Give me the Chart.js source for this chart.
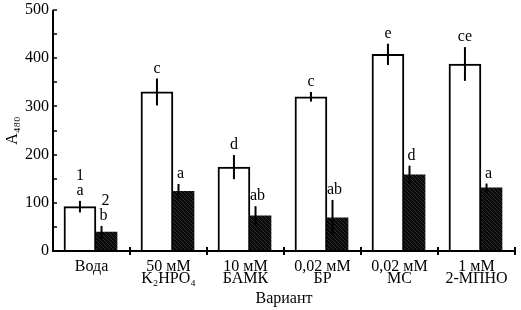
<!DOCTYPE html>
<html>
<head>
<meta charset="utf-8">
<script src="https://cdn.jsdelivr.net/npm/chart.js@4"></script>
<style>
  html, body { margin: 0; padding: 0; background: #fff; }
  #wrap { width: 521px; height: 310px; }
</style>
</head>
<body>
<div id="wrap"><canvas id="chart" width="521" height="310"></canvas></div>
<script>
const variants = [
  "Вода",
  ["50 мМ", "K₂HPO₄"],
  ["10 мМ", "БАМК"],
  ["0,02 мМ", "БР"],
  ["0,02 мМ", "МС"],
  ["1 мМ", "2-МПНО"],
];

// series 1 (white) and 2 (black)
const values1 = [92, 330, 174, 320, 408, 388];
const errors1 = [12, 28, 25, 10, 22, 35];
const letters1 = ["a", "c", "d", "c", "e", "ce"];

const values2 = [39, 124, 73, 69, 158, 131];
const errors2 = [13, 15, 20, 37, 19, 9];
const letters2 = ["b", "a", "ab", "ab", "d", "a"];

const seriesNames = ["1", "2"];

const FONT = "'Liberation Serif', 'Times New Roman', serif";

// dark hatched fill for series 2
function makeHatch() {
  const c = document.createElement("canvas");
  c.width = 4;
  c.height = 4;
  const g = c.getContext("2d");
  g.fillStyle = "#0a0a0a";
  g.fillRect(0, 0, 4, 4);
  g.strokeStyle = "#2e2e2e";
  g.lineWidth = 1;
  g.beginPath();
  g.moveTo(0, 0);
  g.lineTo(4, 4);
  g.stroke();
  return g.createPattern(c, "repeat");
}

// x position inside each category on the hidden linear axis
const pts1 = values1.map((v, i) => ({ x: i + 0.35, y: v }));
const pts2 = values2.map((v, i) => ({ x: i + 0.63, y: v }));

const errorBars = {
  id: "errorBars",
  afterDatasetsDraw(chart) {
    const { ctx } = chart;
    const y = chart.scales.y;
    const errs = [errors1, errors2];
    const lets = [letters1, letters2];
    ctx.save();
    ctx.strokeStyle = "#000";
    ctx.lineWidth = 2;
    ctx.fillStyle = "#000";
    ctx.font = "16px " + FONT;
    ctx.textAlign = "center";
    ctx.textBaseline = "middle";
    chart.data.datasets.forEach((ds, d) => {
      chart.getDatasetMeta(d).data.forEach((bar, i) => {
        const v = ds.data[i].y;
        const e = errs[d][i];
        const top = y.getPixelForValue(v + e);
        ctx.beginPath();
        ctx.moveTo(bar.x, y.getPixelForValue(v - e));
        ctx.lineTo(bar.x, top);
        ctx.stroke();
        ctx.fillText(lets[d][i], bar.x + (d === 1 ? 2 : 0), top - 10);
        if (i === 0) {
          ctx.fillText(seriesNames[d], bar.x + (d === 1 ? 4 : 0), top - 25);
        }
      });
    });
    ctx.restore();
  },
};

const axisTicks = {
  id: "axisTicks",
  afterDraw(chart) {
    const { ctx, chartArea } = chart;
    const y = chart.scales.y;
    const x2 = chart.scales.x2;
    ctx.save();
    ctx.strokeStyle = "#000";
    ctx.lineWidth = 2;
    ctx.beginPath();
    ctx.moveTo(chartArea.left, chartArea.top);
    ctx.lineTo(chartArea.left, chartArea.bottom);
    ctx.lineTo(chartArea.right, chartArea.bottom);
    ctx.stroke();
    ctx.lineWidth = 1.5;
    for (let v = 0; v <= 500; v += 50) {
      const py = Math.round(y.getPixelForValue(v));
      ctx.beginPath();
      ctx.moveTo(chartArea.left, py);
      ctx.lineTo(chartArea.left + 4, py);
      ctx.stroke();
    }
    ctx.lineWidth = 2;
    for (let i = 1; i <= variants.length; i++) {
      const px = Math.round(x2.getPixelForValue(i));
      ctx.beginPath();
      ctx.moveTo(px, chartArea.bottom - 4);
      ctx.lineTo(px, chartArea.bottom + 4);
      ctx.stroke();
    }
    ctx.restore();
  },
};

const config = {
  type: "bar",
  data: {
    labels: variants,
    datasets: [
      {
        data: pts1,
        xAxisID: "x2",
        backgroundColor: "#fff",
        borderColor: "#000",
        borderWidth: 2,
        barThickness: 32,
        grouped: false,
      },
      {
        data: pts2,
        xAxisID: "x2",
        backgroundColor: makeHatch(),
        borderColor: "#000",
        borderWidth: 0,
        barThickness: 31,
        grouped: false,
      },
    ],
  },
  options: {
    responsive: false,
    animation: false,
    layout: { padding: { top: 10, right: 6, bottom: 0, left: 0 } },
    plugins: {
      legend: { display: false },
      tooltip: { enabled: false },
    },
    scales: {
      x: {
        type: "category",
        position: "bottom",
        offset: true,
        grid: { display: false, drawTicks: false },
        border: { display: false },
        ticks: {
          color: "#000",
          padding: 9,
          maxRotation: 0,
          autoSkip: false,
          font: { family: FONT, size: 16, lineHeight: 0.8 },
        },
        title: {
          display: true,
          text: "Вариант",
          color: "#000",
          padding: { top: 0, bottom: 2 },
          font: { family: FONT, size: 16 },
        },
        afterFit(scale) {
          scale.height = 59;
        },
      },
      x2: {
        type: "linear",
        display: false,
        offset: false,
        min: 0,
        max: 6,
      },
      y: {
        min: 0,
        max: 500,
        grid: { display: false, drawTicks: false },
        border: { display: false },
        ticks: {
          stepSize: 50,
          color: "#000",
          padding: 4,
          font: { family: FONT, size: 16 },
          callback: (v) => (v % 100 === 0 ? v : ""),
        },
        title: {
          display: true,
          text: "A₄₈₀",
          color: "#000",
          padding: { top: 3, bottom: 0 },
          font: { family: FONT, size: 16 },
        },
        afterFit(scale) {
          scale.width = 53;
          scale.paddingTop = 0;
          scale.paddingBottom = 0;
        },
      },
    },
  },
  plugins: [errorBars, axisTicks],
};

new Chart(document.getElementById("chart"), config);
</script>
</body>
</html>
